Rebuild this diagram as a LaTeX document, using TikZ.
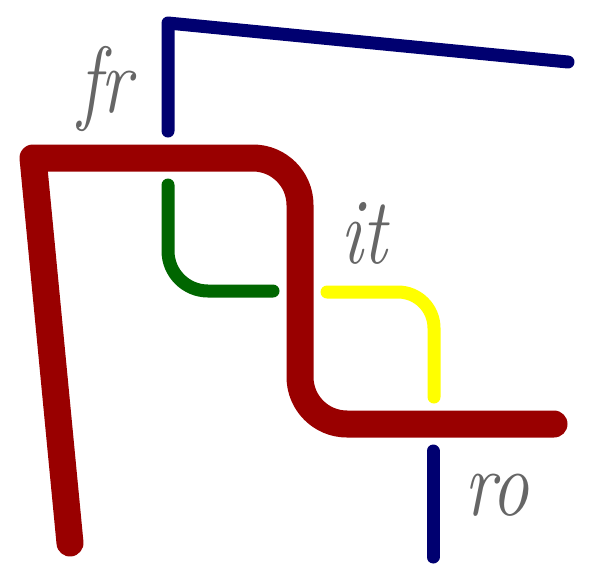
\documentclass[tikz,border=0pt]{standalone}
\usepackage{fontspec}
\definecolor{cnavy}{HTML}{000070}
\definecolor{cred}{HTML}{990000}
\definecolor{cgreen}{HTML}{006600}
\definecolor{cyellow}{HTML}{FFFF00}
\definecolor{cgray}{HTML}{666666}

\begin{document}
\begin{tikzpicture}[x=1pt, y=-1pt, line cap=round, line join=round,
  strand/.style={line width=13pt},
  lbl/.style={cgray, anchor=base west, inner sep=0pt, xscale=0.8,
    font=\fontsize{94}{94}\selectfont\itshape}]
\useasboundingbox (0,0) rectangle (596,582);
%% ------------------------------------------------------------------ points
\coordinate (NE) at (568,62);
\coordinate (NC) at (168,23);
\coordinate (NS) at (168,131);
\coordinate (RA) at (70,543);
\coordinate (RB) at (33,158);
\coordinate (RC) at (300,158);
\coordinate (RD) at (300,424);
\coordinate (RE) at (554,424);
\coordinate (GA) at (168,185);
\coordinate (GB) at (168,291);
\coordinate (GC) at (273,291);
\coordinate (YA) at (327,292);
\coordinate (YB) at (434,292);
\coordinate (YC) at (434,397);
\coordinate (BA) at (433,451);
\coordinate (BB) at (433,557);
%% ------------------------------------------------------------------ strands
% the navy line, cut in two by the red one
\draw[strand, cnavy] (NE) -- (NC) -- (NS);
\draw[strand, cnavy] (BA) -- (BB);
% the thick red line, sharp at the left, rounded on the right
\draw[cred, line width=27pt] (RA) -- (RB) [rounded corners=47pt] -- (RC) -- (RD) -- (RE);
% green and yellow hooks
\draw[strand, cgreen, rounded corners=40pt] (GA) -- (GB) -- (GC);
\draw[strand, cyellow, rounded corners=36pt] (YA) -- (YB) -- (YC);
%% ------------------------------------------------------------------ labels
\node[lbl] (fr) at (78,112) {fr};
\node[lbl] (it) at (340,263) {it};
\node[lbl] (ro) at (464,515) {ro};
\end{tikzpicture}
\end{document}
